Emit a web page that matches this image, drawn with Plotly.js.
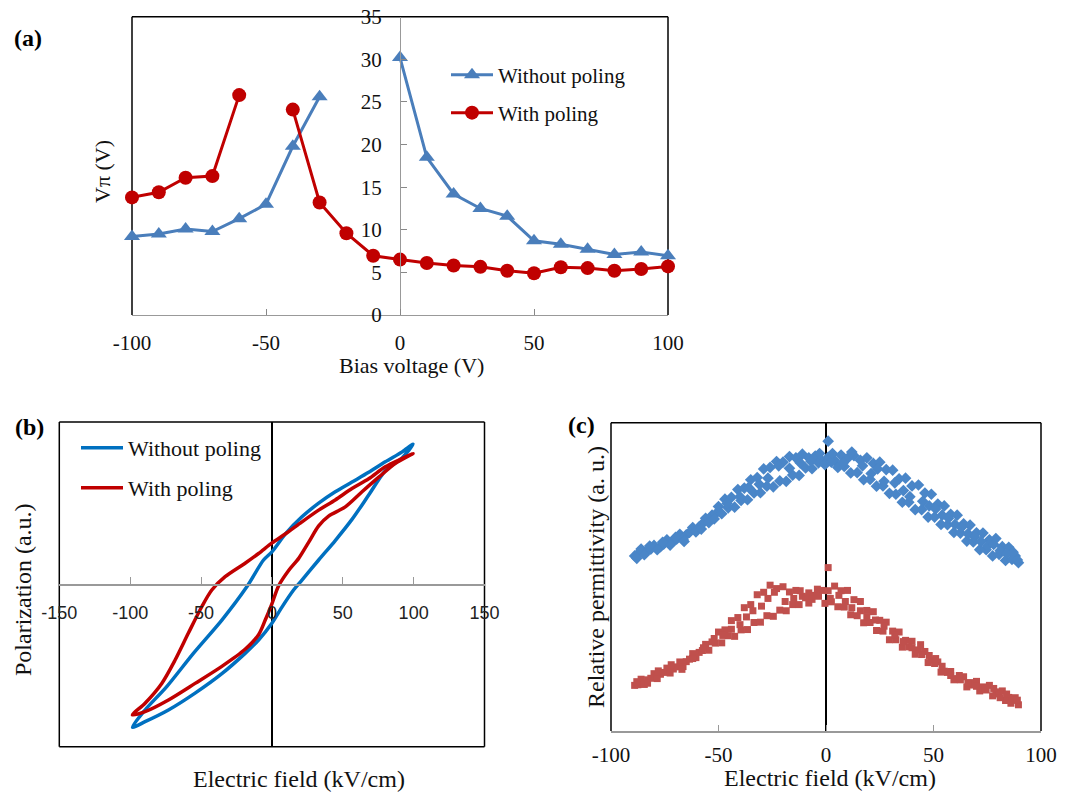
<!DOCTYPE html>
<html>
<head>
<meta charset="utf-8">
<script src="https://cdn.plot.ly/plotly-3.0.1.min.js"></script>
<style>html,body{margin:0;padding:0;background:#fff;}#chart{width:1070px;height:794px;}</style>
</head>
<body>
<div id="chart"></div>
<script>
// ---------- Panel (a): V-pi vs bias voltage ----------
const biasVoltage = [-100,-90,-80,-70,-60,-50,-40,-30,-20,-10,0,10,20,30,40,50,60,70,80,90,100];
const vpiWithoutPoling = [9.2,9.5,10.1,9.8,11.3,13.0,19.8,25.6,null,null,30.2,18.5,14.2,12.5,11.6,8.7,8.3,7.7,7.1,7.4,6.95];
const vpiWithPoling = [13.8,14.4,16.1,16.3,25.8,null,24.1,13.2,9.6,6.95,6.5,6.1,5.8,5.65,5.2,4.9,5.6,5.5,5.2,5.4,5.7];
const biasTicks = [-100,-50,0,50,100];
const biasTickLabels = ['-100','-50','0','50','100'];
const vpiTicks = [0,5,10,15,20,25,30,35];

// ---------- Panel (b): P-E hysteresis loops ----------
const loopFieldWithout = [-98.4,-89.5,-74.2,-55.4,-35.3,-17.7,-5.9,0,9.4,21.2,33,44.7,56.5,68.3,80,91.9,99.6,92,80,68.3,56.5,44.7,33,21.2,15.3,7.1,0,-9.4,-18.9,-35.3,-54.2,-73,-89.5,-98.4];
const loopPolWithout = [-0.88,-0.774,-0.63,-0.425,-0.22,-0.015,0.15,0.2,0.31,0.416,0.5,0.57,0.63,0.69,0.755,0.816,0.863,0.78,0.70,0.55,0.40,0.27,0.15,0.026,-0.035,-0.14,-0.24,-0.343,-0.425,-0.55,-0.67,-0.774,-0.846,-0.88];
const loopFieldWith = [-98.4,-89.5,-77.7,-68.3,-58.9,-49.5,-42.4,-33,-18.9,-9.4,0,9.4,21.2,33,44.7,56.5,68.3,80,91.9,99.6,87.2,75.4,63.6,51.8,40,33,26,18.9,11.8,4.7,0,-4.7,-9.4,-18.9,-35.3,-54.2,-73,-89.5,-98.4];
const loopPolWith = [-0.804,-0.732,-0.61,-0.466,-0.30,-0.138,-0.035,0.047,0.13,0.19,0.255,0.31,0.385,0.457,0.52,0.59,0.65,0.724,0.775,0.806,0.745,0.66,0.57,0.477,0.42,0.36,0.26,0.16,0.085,-0.01,-0.12,-0.22,-0.31,-0.40,-0.505,-0.61,-0.712,-0.784,-0.804];
const fieldTicksB = [-150,-100,-50,0,50,100,150];
const fieldTickLabelsB = ['-150','-100','-50','0','50','100','150'];

// ---------- Panel (c): relative permittivity vs field ----------
const permFieldA = [-89,-86,-83,-80,-77,-74,-71,-68,-65,-62,-59,-56,-53,-50,-47,-44,-41,-38,-35,-32,-29,-26,-23,-20,-17,-14,-11,-8,-5,-2,1,4,7,10,13,16,19,22,25,28,31,34,37,40,43,46,49,52,55,58,61,64,67,70,73,76,79,82,85,88];
const permFieldB = [-87.5,-84.5,-81.5,-78.5,-75.5,-72.5,-69.5,-66.5,-63.5,-60.5,-57.5,-54.5,-51.5,-48.5,-45.5,-42.5,-39.5,-36.5,-33.5,-30.5,-27.5,-24.5,-21.5,-18.5,-15.5,-12.5,-9.5,-6.5,-3.5,-0.5,2.5,5.5,8.5,11.5,14.5,17.5,20.5,23.5,26.5,29.5,32.5,35.5,38.5,41.5,44.5,47.5,50.5,53.5,56.5,59.5,62.5,65.5,68.5,71.5,74.5,77.5,80.5,83.5,86.5,89.5];
const permWithoutUpper = [0.568,0.590,0.585,0.602,0.598,0.620,0.615,0.638,0.636,0.660,0.662,0.690,0.700,0.728,0.752,0.758,0.783,0.788,0.815,0.822,0.850,0.855,0.874,0.872,0.890,0.886,0.898,0.886,0.892,0.876,0.888,0.878,0.895,0.884,0.893,0.878,0.886,0.868,0.872,0.848,0.846,0.818,0.820,0.795,0.798,0.772,0.768,0.736,0.730,0.703,0.700,0.672,0.668,0.643,0.642,0.620,0.624,0.598,0.596,0.568];
const permWithoutLower = [0.575,0.572,0.590,0.588,0.606,0.603,0.622,0.621,0.644,0.646,0.672,0.676,0.703,0.705,0.724,0.726,0.748,0.750,0.772,0.773,0.794,0.792,0.811,0.810,0.830,0.829,0.853,0.851,0.870,0.864,0.872,0.855,0.858,0.837,0.838,0.815,0.816,0.794,0.795,0.771,0.768,0.742,0.742,0.718,0.718,0.694,0.694,0.670,0.669,0.644,0.642,0.616,0.613,0.588,0.588,0.568,0.573,0.553,0.557,0.546];
const permWithUpper = [0.148,0.168,0.166,0.186,0.184,0.204,0.201,0.224,0.225,0.251,0.255,0.281,0.289,0.321,0.328,0.358,0.368,0.400,0.410,0.442,0.450,0.473,0.462,0.468,0.451,0.456,0.437,0.448,0.440,0.456,0.455,0.470,0.455,0.456,0.426,0.420,0.391,0.387,0.359,0.353,0.324,0.321,0.294,0.291,0.263,0.258,0.230,0.224,0.194,0.193,0.170,0.176,0.157,0.161,0.143,0.148,0.127,0.130,0.109,0.108];
const permWithLower = [0.150,0.151,0.171,0.170,0.190,0.188,0.208,0.209,0.233,0.238,0.261,0.262,0.285,0.286,0.309,0.307,0.328,0.329,0.352,0.353,0.374,0.372,0.392,0.390,0.410,0.410,0.432,0.427,0.437,0.414,0.419,0.403,0.402,0.377,0.374,0.351,0.352,0.326,0.324,0.296,0.296,0.272,0.273,0.249,0.248,0.222,0.219,0.191,0.190,0.166,0.166,0.143,0.149,0.130,0.133,0.114,0.120,0.099,0.100,0.085];
const permExtraFieldWithout = [-88,-82,-76,-70,-66,-58,-52,-46,-40,-36,-31,-27,-22,-17,-12,-7,-3,1,3,8,12,17,21,24,27,32,36,39,45,48,51,54,57,60,63,66,69,72,75,78,81,84,87,89];
const permExtraWithout = [0.560,0.600,0.612,0.628,0.615,0.655,0.688,0.738,0.760,0.790,0.800,0.820,0.860,0.852,0.870,0.875,0.900,0.940,0.900,0.870,0.905,0.860,0.835,0.850,0.810,0.805,0.780,0.760,0.745,0.730,0.720,0.700,0.690,0.670,0.660,0.640,0.630,0.615,0.600,0.605,0.585,0.575,0.580,0.555];
const permExtraFieldWith = [-88,-83,-78,-72,-67,-62,-57,-52,-48,-44,-40,-37,-34,-30,-27,-24,-19,-15,-12,-8,-4,1,2,6,9,12,16,19,23,27,32,36,40,44,48,51,54,58,62,66,70,74,78,81,84,86,89];
const permExtraWith = [0.160,0.155,0.195,0.215,0.200,0.235,0.270,0.300,0.310,0.330,0.345,0.370,0.390,0.405,0.430,0.450,0.420,0.430,0.455,0.415,0.460,0.530,0.430,0.440,0.420,0.400,0.390,0.370,0.360,0.340,0.310,0.290,0.270,0.280,0.245,0.235,0.210,0.180,0.180,0.155,0.145,0.140,0.138,0.108,0.120,0.090,0.100];
const fieldTicksC = [-100,-50,0,50,100];
const fieldTickLabelsC = ['-100','-50','0','50','100'];

// ---------- Styling ----------
const SERIF = 'Liberation Serif, Times New Roman, serif';
const blueA = '#4a7ebb', redA = '#c00000';
const blueB = '#0070c0', redB = '#c00000';
const blueC = '#4a86c8', redC = '#c0504d';

const traces = [
  {x: biasVoltage, y: vpiWithoutPoling, xaxis:'x', yaxis:'y', type:'scatter', mode:'lines+markers', name:'Without poling',
   line:{color:blueA, width:3}, marker:{symbol:'triangle-up', size:14, color:blueA}, connectgaps:false, cliponaxis:false, legend:'legend'},
  {x: biasVoltage, y: vpiWithPoling, xaxis:'x', yaxis:'y', type:'scatter', mode:'lines+markers', name:'With poling',
   line:{color:redA, width:3}, marker:{symbol:'circle', size:14, color:redA}, connectgaps:false, cliponaxis:false, legend:'legend2'},
  {x: loopFieldWithout, y: loopPolWithout, xaxis:'x2', yaxis:'y2', type:'scatter', mode:'lines', name:'Without poling',
   line:{color:blueB, width:3.5, shape:'spline', smoothing:0.8}, cliponaxis:false, legend:'legend3'},
  {x: loopFieldWith, y: loopPolWith, xaxis:'x2', yaxis:'y2', type:'scatter', mode:'lines', name:'With poling',
   line:{color:redB, width:3.5, shape:'spline', smoothing:0.8}, cliponaxis:false, legend:'legend4'},
  {x: permFieldA.concat(permFieldB, permExtraFieldWithout), y: permWithoutUpper.concat(permWithoutLower, permExtraWithout),
   xaxis:'x3', yaxis:'y3', type:'scatter', mode:'markers', showlegend:false, name:'Without poling',
   marker:{symbol:'diamond', size:9, color:blueC}},
  {x: permFieldA.concat(permFieldB, permExtraFieldWith), y: permWithUpper.concat(permWithLower, permExtraWith),
   xaxis:'x3', yaxis:'y3', type:'scatter', mode:'markers', showlegend:false, name:'With poling',
   marker:{symbol:'square', size:7, color:redC}}
];

function px(x){return x/1070;}
function py(y){return 1 - y/794;}

function frameLines(xr, yr, color, sides){
  const s = [];
  if (sides.includes('l')) s.push({type:'line', xref:xr+' domain', yref:yr+' domain', x0:0, x1:0, y0:0, y1:1, line:{color:color, width:1.5}, layer:'below'});
  if (sides.includes('t')) s.push({type:'line', xref:xr+' domain', yref:yr+' domain', x0:0, x1:1, y0:1, y1:1, line:{color:color, width:1.5}, layer:'below'});
  if (sides.includes('r')) s.push({type:'line', xref:xr+' domain', yref:yr+' domain', x0:1, x1:1, y0:0, y1:1, line:{color:color, width:1.5}, layer:'below'});
  if (sides.includes('b')) s.push({type:'line', xref:xr+' domain', yref:yr+' domain', x0:0, x1:1, y0:0, y1:0, line:{color:color, width:1.5}, layer:'below'});
  return s;
}

const legendBase = {xanchor:'left', yanchor:'middle', bgcolor:'rgba(0,0,0,0)', borderwidth:0, itemwidth:42,
  font:{family:SERIF, size:21, color:'#111'}};

function ann(text, x, y, size, opts){
  return Object.assign({text:text, xref:'paper', yref:'paper', x:px(x), y:py(y), xanchor:'center', yanchor:'middle',
    showarrow:false, font:{family:SERIF, size:size, color:'#111'}}, opts || {});
}

const layout = {
  width:1070, height:794,
  margin:{l:0, r:0, t:0, b:0},
  paper_bgcolor:'#fff', plot_bgcolor:'#fff',
  showlegend:true,
  // panel (a)
  xaxis:{domain:[px(132), px(668)], range:[-100,100], anchor:'y', tickvals:biasTicks, ticktext:biasTickLabels, ticks:'inside', ticklen:6, tickcolor:'#888',
         showline:true, linecolor:'#999', linewidth:1.2, showgrid:false, zeroline:false, ticklabelstandoff:9,
         tickfont:{family:SERIF, size:21, color:'#111'}},
  yaxis:{domain:[py(315), py(16.7)], range:[0,35], anchor:'free', position:px(400), tickvals:vpiTicks, ticks:'inside', ticklen:6, tickcolor:'#888',
         showline:true, linecolor:'#999', linewidth:1.2, showgrid:false, zeroline:false, ticklabelstandoff:14,
         tickfont:{family:SERIF, size:21, color:'#111'}},
  // panel (b)
  xaxis2:{domain:[px(59.3), px(484.5)], range:[-150,150], anchor:'free', position:py(584.3), tickvals:fieldTicksB, ticktext:fieldTickLabelsB, ticks:'inside', ticklen:7, tickcolor:'#999',
          showline:true, linecolor:'#999', linewidth:1.5, showgrid:false, zeroline:true, zerolinecolor:'#000', zerolinewidth:1.5,
          ticklabelstandoff:12, tickfont:{family:'Liberation Sans, Arial, sans-serif', size:18, color:'#222'}},
  yaxis2:{domain:[py(746.7), py(422)], range:[-1,1], anchor:'x2', showticklabels:false, ticks:'', showline:false, showgrid:false, zeroline:false},
  // panel (c)
  xaxis3:{domain:[px(611), px(1041)], range:[-100,100], anchor:'y3', tickvals:fieldTicksC, ticktext:fieldTickLabelsC, ticks:'inside', ticklen:6, tickcolor:'#999',
          showline:true, linecolor:'#999', linewidth:1.5, showgrid:false, zeroline:true, zerolinecolor:'#000', zerolinewidth:1.5,
          ticklabelstandoff:4, tickfont:{family:SERIF, size:21, color:'#111'}},
  yaxis3:{domain:[py(731), py(422.7)], range:[0,1], anchor:'x3', showticklabels:false, ticks:'', showline:false, showgrid:false, zeroline:false},
  legend: Object.assign({}, legendBase, {x:px(446), y:py(75)}),
  legend2: Object.assign({}, legendBase, {x:px(446), y:py(113)}),
  legend3: Object.assign({}, legendBase, {x:px(76), y:py(448), font:{family:SERIF, size:22, color:'#111'}}),
  legend4: Object.assign({}, legendBase, {x:px(76), y:py(488), font:{family:SERIF, size:22, color:'#111'}}),
  shapes: [].concat(
    frameLines('x','y','#000','ltr'),
    frameLines('x2','y2','#000','ltrb'),
    frameLines('x3','y3','#000','ltr')
  ),
  annotations: [
    ann('(a)', 28, 38, 24, {font:{family:SERIF, size:24, color:'#000', weight:'bold'}}),
    ann('(b)', 29, 427, 24, {font:{family:SERIF, size:24, color:'#000', weight:'bold'}}),
    ann('(c)', 581, 425, 24, {font:{family:SERIF, size:24, color:'#000', weight:'bold'}}),
    ann('Bias voltage (V)', 411, 365, 22),
    ann('Vπ (V)', 102, 172, 22, {textangle:-90}),
    ann('Electric field (kV/cm)', 299, 779, 24),
    ann('Polarization (a.u.)', 23, 590, 24, {textangle:-90}),
    ann('Electric field (kV/cm)', 830, 778, 24),
    ann('Relative permittivity (a. u.)', 596, 577, 24, {textangle:-90})
  ]
};

Plotly.newPlot('chart', traces, layout, {displayModeBar:false, staticPlot:true});
</script>
</body>
</html>
